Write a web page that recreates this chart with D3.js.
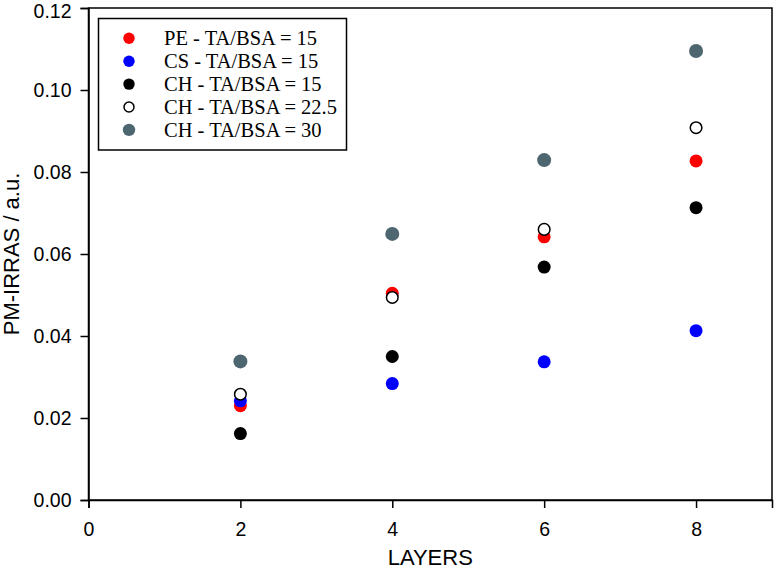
<!DOCTYPE html>
<html><head><meta charset="utf-8">
<script src="https://cdn.jsdelivr.net/npm/d3@7"></script>
<style>body{margin:0;background:#fff}svg{display:block}</style>
</head><body>
<script>
const layers = [2, 4, 6, 8];
const peTA15 = [0.0230, 0.0504, 0.0642, 0.0827];
const csTA15 = [0.0242, 0.0284, 0.0337, 0.0413];
const chTA15 = [0.0162, 0.0350, 0.0568, 0.0713];
const chTA225 = [0.0258, 0.0494, 0.0660, 0.0908];
const chTA30 = [0.0338, 0.0649, 0.0829, 0.1095];
const seriesNames = ["PE - TA/BSA = 15","CS - TA/BSA = 15","CH - TA/BSA = 15","CH - TA/BSA = 22.5","CH - TA/BSA = 30"];
const xTicks = [0, 2, 4, 6, 8];
const yTicks = [0, 0.02, 0.04, 0.06, 0.08, 0.10, 0.12];

const series = [
  {name: seriesNames[0], values: peTA15, fill: "#ff0000", stroke: "none", r: 6.5},
  {name: seriesNames[1], values: csTA15, fill: "#0000ff", stroke: "none", r: 6.5},
  {name: seriesNames[2], values: chTA15, fill: "#000000", stroke: "none", r: 6.5},
  {name: seriesNames[3], values: chTA225, fill: "#ffffff", stroke: "#000000", r: 5.8},
  {name: seriesNames[4], values: chTA30, fill: "#4d6670", stroke: "none", r: 7}
];

const W = 774, H = 573;
const svg = d3.select("body").append("svg").attr("width", W).attr("height", H);
const L = 88.5, R = 772, T = 8, B = 500;
const x = d3.scaleLinear().domain([0, 9]).range([L, R]);
const y = d3.scaleLinear().domain([0, 0.12]).range([B, T]);

svg.append("rect").attr("x", L).attr("y", T).attr("width", R - L).attr("height", B - T)
  .attr("fill", "none").attr("stroke", "#000").attr("stroke-width", 1.5);

const xAxis = svg.append("g").attr("transform", `translate(0,${B})`)
  .call(d3.axisBottom(x).tickValues(xTicks).tickFormat(d3.format("d")).tickSize(8).tickPadding(14));
const yAxis = svg.append("g").attr("transform", `translate(${L},0)`)
  .call(d3.axisLeft(y).tickValues(yTicks).tickFormat(d3.format(".2f")).tickSize(8).tickPadding(9));
[xAxis, yAxis].forEach(g => {
  g.select(".domain").attr("stroke-width", 1.5);
  g.selectAll(".tick line").attr("stroke-width", 1.5);
  g.selectAll(".tick text").attr("font-family", "Arial, 'Liberation Sans', sans-serif")
    .attr("font-size", 19.5).attr("fill", "#000");
});
yAxis.selectAll(".tick text").filter(d => d === 0.12).attr("dy", "0.5em");

svg.append("text").attr("x", (L + R) / 2).attr("y", 565).attr("text-anchor", "middle")
  .attr("font-family", "Arial, 'Liberation Sans', sans-serif").attr("font-size", 22).text("LAYERS");
svg.append("text").attr("transform", `translate(19,${(T + B) / 2}) rotate(-90)`).attr("text-anchor", "middle")
  .attr("font-family", "Arial, 'Liberation Sans', sans-serif").attr("font-size", 22).text("PM-IRRAS / a.u.");

series.forEach(s => {
  svg.append("g").selectAll("circle").data(s.values).join("circle")
    .attr("cx", (d, i) => x(layers[i])).attr("cy", d => y(d)).attr("r", s.r)
    .attr("fill", s.fill).attr("stroke", s.stroke).attr("stroke-width", 1.5);
});

const lg = svg.append("g");
lg.append("rect").attr("x", 98.5).attr("y", 18.5).attr("width", 248).attr("height", 131.5)
  .attr("fill", "#fff").attr("stroke", "#000").attr("stroke-width", 1.5);
series.forEach((s, i) => {
  const cy = 38.3 + i * 22.9;
  lg.append("circle").attr("cx", 129).attr("cy", cy).attr("r", s.r - 0.8)
    .attr("fill", s.fill).attr("stroke", s.stroke).attr("stroke-width", 1.5);
  lg.append("text").attr("x", 164).attr("y", cy + 7).attr("font-family", "'Times New Roman', 'Liberation Serif', serif")
    .attr("font-size", 20.5).text(s.name);
});
</script>
</body></html>
